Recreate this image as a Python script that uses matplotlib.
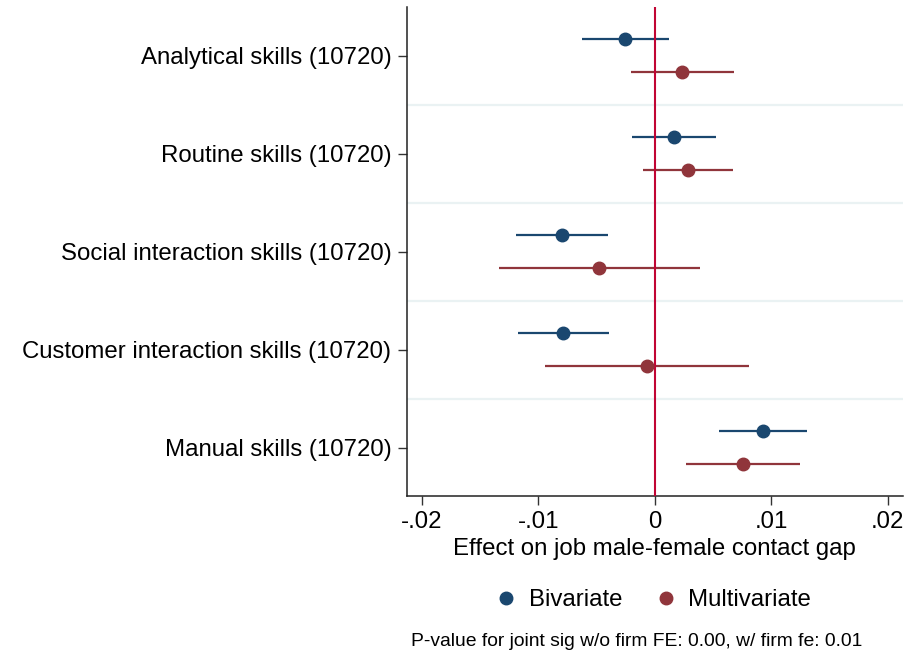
import numpy as np
import matplotlib
matplotlib.use('Agg')
import matplotlib.pyplot as plt
from matplotlib.lines import Line2D

plt.rcParams['font.family'] = ['Liberation Sans', 'DejaVu Sans']

# skill measures (top to bottom)
labels = ['Analytical skills (10720)',
          'Routine skills (10720)',
          'Social interaction skills (10720)',
          'Customer interaction skills (10720)',
          'Manual skills (10720)']

# bivariate estimates and 95% CIs
biv_est = [-0.00252, 0.00166, -0.00798, -0.00785, 0.00927]
biv_lo = [-0.00626, -0.00192, -0.01193, -0.01171, 0.00549]
biv_hi = [0.00121, 0.00524, -0.00403, -0.00395, 0.01305]

# multivariate estimates and 95% CIs
mul_est = [0.00237, 0.00286, -0.00476, -0.00069, 0.00758]
mul_lo = [-0.00203, -0.00098, -0.01339, -0.00944, 0.00266]
mul_hi = [0.00678, 0.00670, 0.00391, 0.00812, 0.01250]

xticks = [-0.02, -0.01, 0, 0.01, 0.02]
xticklabels = ['-.02', '-.01', '0', '.01', '.02']

blue = '#1a476f'
maroon = '#90353b'
red = '#c10534'
grid_c = '#eaf2f3'
fs = 17.3

fig = plt.figure(figsize=(9.23, 6.53), dpi=100)
ax = fig.add_axes((0.4406, 0.2404, 0.5377, 0.7489))

pos = np.arange(len(labels))
off = 0.167

# separators between groups
for p in pos[:-1]:
    ax.axhline(p + 0.5, color=grid_c, lw=1.6, zorder=0)

ax.axvline(0, color=red, lw=1.5, zorder=3)

ax.hlines(pos - off, biv_lo, biv_hi, color=blue, lw=1.6, zorder=2)
ax.hlines(pos + off, mul_lo, mul_hi, color=maroon, lw=1.6, zorder=2)
ax.plot(biv_est, pos - off, 'o', color=blue, ms=9, zorder=4, lw=0)
ax.plot(mul_est, pos + off, 'o', color=maroon, ms=9, zorder=4, lw=0)

ax.set_xlim(-0.0213, 0.0213)
ax.set_ylim(4.493, -0.497)
ax.set_yticks(pos)
ax.set_yticklabels(labels, fontsize=fs)
ax.set_xticks(xticks)
ax.set_xticklabels(xticklabels, fontsize=fs)
ax.tick_params(axis='both', length=6.5, width=1, color='#333333', pad=4.5)
ax.tick_params(axis='y', pad=4.5)
ax.set_xlabel('Effect on job male-female contact gap', fontsize=fs, labelpad=3.5)

ax.spines['top'].set_visible(False)
ax.spines['right'].set_visible(False)
ax.spines['left'].set_linewidth(1.1)
ax.spines['bottom'].set_linewidth(1.1)
ax.spines['left'].set_color('#222222')
ax.spines['bottom'].set_color('#222222')

handles = [Line2D([], [], ls='', marker='o', ms=9, color=blue),
           Line2D([], [], ls='', marker='o', ms=9, color=maroon)]
fig.legend(handles, ['Bivariate', 'Multivariate'], loc='center',
           bbox_to_anchor=(655 / 923, 1 - 600 / 653), ncol=2, frameon=False,
           fontsize=fs, handlelength=0.6, handletextpad=0.65, columnspacing=1.5)

fig.text(411 / 923, 1 - 641 / 653,
         'P-value for joint sig w/o firm FE: 0.00, w/ firm fe: 0.01',
         fontsize=13.9, ha='left', va='center')

fig.savefig('out.png', dpi=100)
